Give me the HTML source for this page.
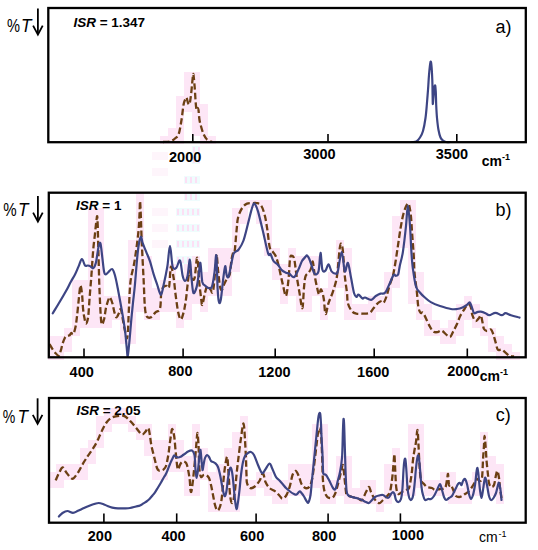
<!DOCTYPE html>
<html><head><meta charset="utf-8"><style>
html,body{margin:0;padding:0;background:#fff;}
body{width:538px;height:550px;overflow:hidden;font-family:"Liberation Sans",sans-serif;}
svg{display:block;}
</style></head><body>
<svg width="538" height="550" viewBox="0 0 538 550">
<rect x="192" y="146" width="8" height="8" fill="#effcfd"/><rect x="193" y="147" width="2" height="6" fill="#fce0f5"/><rect x="198" y="147" width="2" height="6" fill="#fce0f5"/><rect x="192" y="156" width="8" height="8" fill="#effcfd"/><rect x="193" y="157" width="2" height="6" fill="#fce0f5"/><rect x="198" y="157" width="2" height="6" fill="#fce0f5"/><rect x="184" y="176" width="16" height="8" fill="#effcfd"/><rect x="185" y="177" width="2" height="6" fill="#fce0f5"/><rect x="190" y="177" width="2" height="6" fill="#fce0f5"/><rect x="195" y="177" width="2" height="6" fill="#fce0f5"/><rect x="184" y="193" width="16" height="8" fill="#effcfd"/><rect x="185" y="194" width="2" height="6" fill="#fce0f5"/><rect x="190" y="194" width="2" height="6" fill="#fce0f5"/><rect x="195" y="194" width="2" height="6" fill="#fce0f5"/><rect x="176" y="208" width="24" height="8" fill="#effcfd"/><rect x="177" y="209" width="2" height="6" fill="#fce0f5"/><rect x="182" y="209" width="2" height="6" fill="#fce0f5"/><rect x="187" y="209" width="2" height="6" fill="#fce0f5"/><rect x="192" y="209" width="2" height="6" fill="#fce0f5"/><rect x="197" y="209" width="2" height="6" fill="#fce0f5"/><rect x="176" y="224" width="24" height="8" fill="#effcfd"/><rect x="177" y="225" width="2" height="6" fill="#fce0f5"/><rect x="182" y="225" width="2" height="6" fill="#fce0f5"/><rect x="187" y="225" width="2" height="6" fill="#fce0f5"/><rect x="192" y="225" width="2" height="6" fill="#fce0f5"/><rect x="197" y="225" width="2" height="6" fill="#fce0f5"/><rect x="176" y="240" width="24" height="8" fill="#effcfd"/><rect x="177" y="241" width="2" height="6" fill="#fce0f5"/><rect x="182" y="241" width="2" height="6" fill="#fce0f5"/><rect x="187" y="241" width="2" height="6" fill="#fce0f5"/><rect x="192" y="241" width="2" height="6" fill="#fce0f5"/><rect x="197" y="241" width="2" height="6" fill="#fce0f5"/><rect x="176" y="256" width="24" height="8" fill="#effcfd"/><rect x="177" y="257" width="2" height="6" fill="#fce0f5"/><rect x="182" y="257" width="2" height="6" fill="#fce0f5"/><rect x="187" y="257" width="2" height="6" fill="#fce0f5"/><rect x="192" y="257" width="2" height="6" fill="#fce0f5"/><rect x="197" y="257" width="2" height="6" fill="#fce0f5"/><rect x="152" y="152" width="16" height="8" fill="#fef5fb"/><rect x="152" y="168" width="16" height="8" fill="#fef5fb"/><rect x="152" y="208" width="16" height="8" fill="#fef5fb"/><rect x="152" y="224" width="16" height="8" fill="#fef5fb"/><rect x="152" y="240" width="16" height="8" fill="#fef5fb"/><g fill="#fde6f6"><rect x="48" y="336" width="8" height="8"/><rect x="48" y="344" width="8" height="8"/><rect x="48" y="352" width="8" height="8"/><rect x="48" y="472" width="8" height="8"/><rect x="48" y="480" width="8" height="8"/><rect x="56" y="336" width="8" height="8"/><rect x="56" y="344" width="8" height="8"/><rect x="56" y="352" width="8" height="8"/><rect x="56" y="464" width="8" height="8"/><rect x="56" y="472" width="8" height="8"/><rect x="56" y="480" width="8" height="8"/><rect x="64" y="328" width="8" height="8"/><rect x="64" y="336" width="8" height="8"/><rect x="64" y="344" width="8" height="8"/><rect x="64" y="464" width="8" height="8"/><rect x="64" y="472" width="8" height="8"/><rect x="72" y="280" width="8" height="8"/><rect x="72" y="288" width="8" height="8"/><rect x="72" y="296" width="8" height="8"/><rect x="72" y="304" width="8" height="8"/><rect x="72" y="312" width="8" height="8"/><rect x="72" y="320" width="8" height="8"/><rect x="72" y="328" width="8" height="8"/><rect x="72" y="464" width="8" height="8"/><rect x="72" y="472" width="8" height="8"/><rect x="80" y="280" width="8" height="8"/><rect x="80" y="288" width="8" height="8"/><rect x="80" y="296" width="8" height="8"/><rect x="80" y="304" width="8" height="8"/><rect x="80" y="312" width="8" height="8"/><rect x="80" y="320" width="8" height="8"/><rect x="80" y="448" width="8" height="8"/><rect x="80" y="456" width="8" height="8"/><rect x="80" y="464" width="8" height="8"/><rect x="80" y="472" width="8" height="8"/><rect x="88" y="208" width="8" height="8"/><rect x="88" y="216" width="8" height="8"/><rect x="88" y="224" width="8" height="8"/><rect x="88" y="232" width="8" height="8"/><rect x="88" y="240" width="8" height="8"/><rect x="88" y="248" width="8" height="8"/><rect x="88" y="256" width="8" height="8"/><rect x="88" y="264" width="8" height="8"/><rect x="88" y="272" width="8" height="8"/><rect x="88" y="280" width="8" height="8"/><rect x="88" y="288" width="8" height="8"/><rect x="88" y="296" width="8" height="8"/><rect x="88" y="304" width="8" height="8"/><rect x="88" y="312" width="8" height="8"/><rect x="88" y="320" width="8" height="8"/><rect x="88" y="440" width="8" height="8"/><rect x="88" y="448" width="8" height="8"/><rect x="88" y="456" width="8" height="8"/><rect x="96" y="208" width="8" height="8"/><rect x="96" y="216" width="8" height="8"/><rect x="96" y="224" width="8" height="8"/><rect x="96" y="232" width="8" height="8"/><rect x="96" y="240" width="8" height="8"/><rect x="96" y="248" width="8" height="8"/><rect x="96" y="256" width="8" height="8"/><rect x="96" y="264" width="8" height="8"/><rect x="96" y="272" width="8" height="8"/><rect x="96" y="280" width="8" height="8"/><rect x="96" y="288" width="8" height="8"/><rect x="96" y="296" width="8" height="8"/><rect x="96" y="304" width="8" height="8"/><rect x="96" y="312" width="8" height="8"/><rect x="96" y="320" width="8" height="8"/><rect x="96" y="416" width="8" height="8"/><rect x="96" y="424" width="8" height="8"/><rect x="96" y="432" width="8" height="8"/><rect x="96" y="440" width="8" height="8"/><rect x="104" y="296" width="8" height="8"/><rect x="104" y="304" width="8" height="8"/><rect x="104" y="312" width="8" height="8"/><rect x="104" y="320" width="8" height="8"/><rect x="104" y="408" width="8" height="8"/><rect x="104" y="416" width="8" height="8"/><rect x="104" y="424" width="8" height="8"/><rect x="112" y="296" width="8" height="8"/><rect x="112" y="304" width="8" height="8"/><rect x="112" y="312" width="8" height="8"/><rect x="112" y="408" width="8" height="8"/><rect x="112" y="416" width="8" height="8"/><rect x="120" y="296" width="8" height="8"/><rect x="120" y="304" width="8" height="8"/><rect x="120" y="312" width="8" height="8"/><rect x="120" y="320" width="8" height="8"/><rect x="120" y="328" width="8" height="8"/><rect x="120" y="336" width="8" height="8"/><rect x="120" y="408" width="8" height="8"/><rect x="120" y="416" width="8" height="8"/><rect x="128" y="240" width="8" height="8"/><rect x="128" y="248" width="8" height="8"/><rect x="128" y="256" width="8" height="8"/><rect x="128" y="264" width="8" height="8"/><rect x="128" y="272" width="8" height="8"/><rect x="128" y="280" width="8" height="8"/><rect x="128" y="288" width="8" height="8"/><rect x="128" y="296" width="8" height="8"/><rect x="128" y="304" width="8" height="8"/><rect x="128" y="312" width="8" height="8"/><rect x="128" y="320" width="8" height="8"/><rect x="128" y="328" width="8" height="8"/><rect x="128" y="336" width="8" height="8"/><rect x="128" y="416" width="8" height="8"/><rect x="128" y="424" width="8" height="8"/><rect x="136" y="192" width="8" height="8"/><rect x="136" y="200" width="8" height="8"/><rect x="136" y="208" width="8" height="8"/><rect x="136" y="216" width="8" height="8"/><rect x="136" y="224" width="8" height="8"/><rect x="136" y="232" width="8" height="8"/><rect x="136" y="240" width="8" height="8"/><rect x="136" y="248" width="8" height="8"/><rect x="136" y="256" width="8" height="8"/><rect x="136" y="264" width="8" height="8"/><rect x="136" y="272" width="8" height="8"/><rect x="136" y="280" width="8" height="8"/><rect x="136" y="288" width="8" height="8"/><rect x="136" y="296" width="8" height="8"/><rect x="136" y="304" width="8" height="8"/><rect x="136" y="424" width="8" height="8"/><rect x="136" y="432" width="8" height="8"/><rect x="144" y="256" width="8" height="8"/><rect x="144" y="264" width="8" height="8"/><rect x="144" y="272" width="8" height="8"/><rect x="144" y="280" width="8" height="8"/><rect x="144" y="288" width="8" height="8"/><rect x="144" y="296" width="8" height="8"/><rect x="144" y="304" width="8" height="8"/><rect x="144" y="312" width="8" height="8"/><rect x="144" y="424" width="8" height="8"/><rect x="144" y="432" width="8" height="8"/><rect x="144" y="440" width="8" height="8"/><rect x="144" y="448" width="8" height="8"/><rect x="152" y="288" width="8" height="8"/><rect x="152" y="296" width="8" height="8"/><rect x="152" y="304" width="8" height="8"/><rect x="152" y="312" width="8" height="8"/><rect x="152" y="440" width="8" height="8"/><rect x="152" y="448" width="8" height="8"/><rect x="152" y="456" width="8" height="8"/><rect x="152" y="464" width="8" height="8"/><rect x="152" y="472" width="8" height="8"/><rect x="160" y="136" width="8" height="8"/><rect x="160" y="280" width="8" height="8"/><rect x="160" y="288" width="8" height="8"/><rect x="160" y="296" width="8" height="8"/><rect x="160" y="304" width="8" height="8"/><rect x="160" y="440" width="8" height="8"/><rect x="160" y="448" width="8" height="8"/><rect x="160" y="456" width="8" height="8"/><rect x="160" y="464" width="8" height="8"/><rect x="160" y="472" width="8" height="8"/><rect x="168" y="128" width="8" height="8"/><rect x="168" y="136" width="8" height="8"/><rect x="168" y="264" width="8" height="8"/><rect x="168" y="272" width="8" height="8"/><rect x="168" y="280" width="8" height="8"/><rect x="168" y="288" width="8" height="8"/><rect x="168" y="296" width="8" height="8"/><rect x="168" y="304" width="8" height="8"/><rect x="168" y="424" width="8" height="8"/><rect x="168" y="432" width="8" height="8"/><rect x="168" y="440" width="8" height="8"/><rect x="168" y="448" width="8" height="8"/><rect x="168" y="456" width="8" height="8"/><rect x="168" y="464" width="8" height="8"/><rect x="176" y="96" width="8" height="8"/><rect x="176" y="104" width="8" height="8"/><rect x="176" y="112" width="8" height="8"/><rect x="176" y="120" width="8" height="8"/><rect x="176" y="128" width="8" height="8"/><rect x="176" y="136" width="8" height="8"/><rect x="176" y="280" width="8" height="8"/><rect x="176" y="288" width="8" height="8"/><rect x="176" y="296" width="8" height="8"/><rect x="176" y="304" width="8" height="8"/><rect x="176" y="312" width="8" height="8"/><rect x="176" y="320" width="8" height="8"/><rect x="176" y="440" width="8" height="8"/><rect x="176" y="448" width="8" height="8"/><rect x="176" y="456" width="8" height="8"/><rect x="176" y="464" width="8" height="8"/><rect x="184" y="72" width="8" height="8"/><rect x="184" y="80" width="8" height="8"/><rect x="184" y="88" width="8" height="8"/><rect x="184" y="96" width="8" height="8"/><rect x="184" y="104" width="8" height="8"/><rect x="184" y="264" width="8" height="8"/><rect x="184" y="272" width="8" height="8"/><rect x="184" y="280" width="8" height="8"/><rect x="184" y="288" width="8" height="8"/><rect x="184" y="296" width="8" height="8"/><rect x="184" y="304" width="8" height="8"/><rect x="184" y="312" width="8" height="8"/><rect x="184" y="456" width="8" height="8"/><rect x="184" y="464" width="8" height="8"/><rect x="184" y="472" width="8" height="8"/><rect x="184" y="480" width="8" height="8"/><rect x="184" y="488" width="8" height="8"/><rect x="192" y="72" width="8" height="8"/><rect x="192" y="80" width="8" height="8"/><rect x="192" y="88" width="8" height="8"/><rect x="192" y="96" width="8" height="8"/><rect x="192" y="104" width="8" height="8"/><rect x="192" y="112" width="8" height="8"/><rect x="192" y="120" width="8" height="8"/><rect x="192" y="128" width="8" height="8"/><rect x="192" y="256" width="8" height="8"/><rect x="192" y="264" width="8" height="8"/><rect x="192" y="272" width="8" height="8"/><rect x="192" y="280" width="8" height="8"/><rect x="192" y="288" width="8" height="8"/><rect x="192" y="296" width="8" height="8"/><rect x="192" y="424" width="8" height="8"/><rect x="192" y="432" width="8" height="8"/><rect x="192" y="440" width="8" height="8"/><rect x="192" y="448" width="8" height="8"/><rect x="192" y="456" width="8" height="8"/><rect x="192" y="464" width="8" height="8"/><rect x="192" y="472" width="8" height="8"/><rect x="192" y="480" width="8" height="8"/><rect x="192" y="488" width="8" height="8"/><rect x="200" y="104" width="8" height="8"/><rect x="200" y="112" width="8" height="8"/><rect x="200" y="120" width="8" height="8"/><rect x="200" y="128" width="8" height="8"/><rect x="200" y="136" width="8" height="8"/><rect x="200" y="272" width="8" height="8"/><rect x="200" y="280" width="8" height="8"/><rect x="200" y="288" width="8" height="8"/><rect x="200" y="296" width="8" height="8"/><rect x="200" y="304" width="8" height="8"/><rect x="200" y="448" width="8" height="8"/><rect x="200" y="456" width="8" height="8"/><rect x="200" y="464" width="8" height="8"/><rect x="200" y="472" width="8" height="8"/><rect x="208" y="136" width="8" height="8"/><rect x="208" y="248" width="8" height="8"/><rect x="208" y="256" width="8" height="8"/><rect x="208" y="264" width="8" height="8"/><rect x="208" y="272" width="8" height="8"/><rect x="208" y="280" width="8" height="8"/><rect x="208" y="288" width="8" height="8"/><rect x="208" y="472" width="8" height="8"/><rect x="208" y="480" width="8" height="8"/><rect x="208" y="488" width="8" height="8"/><rect x="208" y="496" width="8" height="8"/><rect x="208" y="504" width="8" height="8"/><rect x="216" y="248" width="8" height="8"/><rect x="216" y="256" width="8" height="8"/><rect x="216" y="264" width="8" height="8"/><rect x="216" y="272" width="8" height="8"/><rect x="216" y="280" width="8" height="8"/><rect x="216" y="288" width="8" height="8"/><rect x="216" y="464" width="8" height="8"/><rect x="216" y="472" width="8" height="8"/><rect x="216" y="480" width="8" height="8"/><rect x="216" y="488" width="8" height="8"/><rect x="216" y="496" width="8" height="8"/><rect x="216" y="504" width="8" height="8"/><rect x="224" y="248" width="8" height="8"/><rect x="224" y="256" width="8" height="8"/><rect x="224" y="264" width="8" height="8"/><rect x="224" y="272" width="8" height="8"/><rect x="224" y="280" width="8" height="8"/><rect x="224" y="288" width="8" height="8"/><rect x="224" y="448" width="8" height="8"/><rect x="224" y="456" width="8" height="8"/><rect x="224" y="464" width="8" height="8"/><rect x="224" y="472" width="8" height="8"/><rect x="224" y="480" width="8" height="8"/><rect x="224" y="488" width="8" height="8"/><rect x="224" y="496" width="8" height="8"/><rect x="224" y="504" width="8" height="8"/><rect x="232" y="208" width="8" height="8"/><rect x="232" y="216" width="8" height="8"/><rect x="232" y="224" width="8" height="8"/><rect x="232" y="232" width="8" height="8"/><rect x="232" y="240" width="8" height="8"/><rect x="232" y="248" width="8" height="8"/><rect x="232" y="256" width="8" height="8"/><rect x="232" y="264" width="8" height="8"/><rect x="232" y="432" width="8" height="8"/><rect x="232" y="440" width="8" height="8"/><rect x="232" y="448" width="8" height="8"/><rect x="232" y="456" width="8" height="8"/><rect x="232" y="464" width="8" height="8"/><rect x="232" y="472" width="8" height="8"/><rect x="232" y="480" width="8" height="8"/><rect x="232" y="488" width="8" height="8"/><rect x="232" y="496" width="8" height="8"/><rect x="232" y="504" width="8" height="8"/><rect x="240" y="200" width="8" height="8"/><rect x="240" y="208" width="8" height="8"/><rect x="240" y="216" width="8" height="8"/><rect x="240" y="416" width="8" height="8"/><rect x="240" y="424" width="8" height="8"/><rect x="240" y="432" width="8" height="8"/><rect x="240" y="440" width="8" height="8"/><rect x="240" y="448" width="8" height="8"/><rect x="240" y="456" width="8" height="8"/><rect x="240" y="464" width="8" height="8"/><rect x="240" y="472" width="8" height="8"/><rect x="240" y="480" width="8" height="8"/><rect x="240" y="488" width="8" height="8"/><rect x="248" y="200" width="8" height="8"/><rect x="248" y="480" width="8" height="8"/><rect x="248" y="488" width="8" height="8"/><rect x="256" y="200" width="8" height="8"/><rect x="256" y="208" width="8" height="8"/><rect x="256" y="216" width="8" height="8"/><rect x="256" y="472" width="8" height="8"/><rect x="256" y="480" width="8" height="8"/><rect x="264" y="200" width="8" height="8"/><rect x="264" y="208" width="8" height="8"/><rect x="264" y="216" width="8" height="8"/><rect x="264" y="224" width="8" height="8"/><rect x="264" y="232" width="8" height="8"/><rect x="264" y="240" width="8" height="8"/><rect x="264" y="248" width="8" height="8"/><rect x="264" y="472" width="8" height="8"/><rect x="264" y="480" width="8" height="8"/><rect x="264" y="488" width="8" height="8"/><rect x="272" y="248" width="8" height="8"/><rect x="272" y="256" width="8" height="8"/><rect x="272" y="264" width="8" height="8"/><rect x="272" y="272" width="8" height="8"/><rect x="272" y="480" width="8" height="8"/><rect x="272" y="488" width="8" height="8"/><rect x="272" y="496" width="8" height="8"/><rect x="280" y="264" width="8" height="8"/><rect x="280" y="272" width="8" height="8"/><rect x="280" y="280" width="8" height="8"/><rect x="280" y="288" width="8" height="8"/><rect x="280" y="296" width="8" height="8"/><rect x="280" y="480" width="8" height="8"/><rect x="280" y="488" width="8" height="8"/><rect x="280" y="496" width="8" height="8"/><rect x="288" y="248" width="8" height="8"/><rect x="288" y="256" width="8" height="8"/><rect x="288" y="264" width="8" height="8"/><rect x="288" y="272" width="8" height="8"/><rect x="288" y="280" width="8" height="8"/><rect x="288" y="288" width="8" height="8"/><rect x="288" y="464" width="8" height="8"/><rect x="288" y="472" width="8" height="8"/><rect x="288" y="480" width="8" height="8"/><rect x="288" y="488" width="8" height="8"/><rect x="296" y="256" width="8" height="8"/><rect x="296" y="264" width="8" height="8"/><rect x="296" y="272" width="8" height="8"/><rect x="296" y="280" width="8" height="8"/><rect x="296" y="288" width="8" height="8"/><rect x="296" y="296" width="8" height="8"/><rect x="296" y="304" width="8" height="8"/><rect x="296" y="464" width="8" height="8"/><rect x="296" y="472" width="8" height="8"/><rect x="296" y="480" width="8" height="8"/><rect x="296" y="488" width="8" height="8"/><rect x="304" y="256" width="8" height="8"/><rect x="304" y="264" width="8" height="8"/><rect x="304" y="272" width="8" height="8"/><rect x="304" y="280" width="8" height="8"/><rect x="304" y="288" width="8" height="8"/><rect x="304" y="296" width="8" height="8"/><rect x="304" y="304" width="8" height="8"/><rect x="304" y="464" width="8" height="8"/><rect x="304" y="472" width="8" height="8"/><rect x="304" y="480" width="8" height="8"/><rect x="304" y="488" width="8" height="8"/><rect x="312" y="256" width="8" height="8"/><rect x="312" y="264" width="8" height="8"/><rect x="312" y="272" width="8" height="8"/><rect x="312" y="280" width="8" height="8"/><rect x="312" y="288" width="8" height="8"/><rect x="312" y="424" width="8" height="8"/><rect x="312" y="432" width="8" height="8"/><rect x="312" y="440" width="8" height="8"/><rect x="312" y="448" width="8" height="8"/><rect x="312" y="456" width="8" height="8"/><rect x="312" y="464" width="8" height="8"/><rect x="312" y="472" width="8" height="8"/><rect x="312" y="480" width="8" height="8"/><rect x="320" y="288" width="8" height="8"/><rect x="320" y="296" width="8" height="8"/><rect x="320" y="304" width="8" height="8"/><rect x="320" y="312" width="8" height="8"/><rect x="320" y="424" width="8" height="8"/><rect x="320" y="432" width="8" height="8"/><rect x="320" y="440" width="8" height="8"/><rect x="320" y="448" width="8" height="8"/><rect x="320" y="456" width="8" height="8"/><rect x="320" y="464" width="8" height="8"/><rect x="320" y="472" width="8" height="8"/><rect x="320" y="480" width="8" height="8"/><rect x="320" y="488" width="8" height="8"/><rect x="320" y="496" width="8" height="8"/><rect x="328" y="272" width="8" height="8"/><rect x="328" y="280" width="8" height="8"/><rect x="328" y="288" width="8" height="8"/><rect x="328" y="296" width="8" height="8"/><rect x="328" y="304" width="8" height="8"/><rect x="328" y="480" width="8" height="8"/><rect x="328" y="488" width="8" height="8"/><rect x="328" y="496" width="8" height="8"/><rect x="336" y="240" width="8" height="8"/><rect x="336" y="248" width="8" height="8"/><rect x="336" y="256" width="8" height="8"/><rect x="336" y="264" width="8" height="8"/><rect x="336" y="272" width="8" height="8"/><rect x="336" y="280" width="8" height="8"/><rect x="336" y="456" width="8" height="8"/><rect x="336" y="464" width="8" height="8"/><rect x="336" y="472" width="8" height="8"/><rect x="336" y="480" width="8" height="8"/><rect x="336" y="488" width="8" height="8"/><rect x="344" y="248" width="8" height="8"/><rect x="344" y="256" width="8" height="8"/><rect x="344" y="264" width="8" height="8"/><rect x="344" y="272" width="8" height="8"/><rect x="344" y="280" width="8" height="8"/><rect x="344" y="288" width="8" height="8"/><rect x="344" y="296" width="8" height="8"/><rect x="344" y="304" width="8" height="8"/><rect x="344" y="312" width="8" height="8"/><rect x="344" y="456" width="8" height="8"/><rect x="344" y="464" width="8" height="8"/><rect x="344" y="472" width="8" height="8"/><rect x="344" y="480" width="8" height="8"/><rect x="344" y="488" width="8" height="8"/><rect x="344" y="496" width="8" height="8"/><rect x="352" y="304" width="8" height="8"/><rect x="352" y="312" width="8" height="8"/><rect x="352" y="488" width="8" height="8"/><rect x="352" y="496" width="8" height="8"/><rect x="360" y="304" width="8" height="8"/><rect x="360" y="312" width="8" height="8"/><rect x="360" y="480" width="8" height="8"/><rect x="360" y="488" width="8" height="8"/><rect x="360" y="496" width="8" height="8"/><rect x="368" y="296" width="8" height="8"/><rect x="368" y="304" width="8" height="8"/><rect x="368" y="312" width="8" height="8"/><rect x="368" y="480" width="8" height="8"/><rect x="368" y="488" width="8" height="8"/><rect x="368" y="496" width="8" height="8"/><rect x="376" y="296" width="8" height="8"/><rect x="376" y="304" width="8" height="8"/><rect x="376" y="496" width="8" height="8"/><rect x="376" y="504" width="8" height="8"/><rect x="384" y="272" width="8" height="8"/><rect x="384" y="280" width="8" height="8"/><rect x="384" y="288" width="8" height="8"/><rect x="384" y="296" width="8" height="8"/><rect x="384" y="304" width="8" height="8"/><rect x="384" y="464" width="8" height="8"/><rect x="384" y="472" width="8" height="8"/><rect x="384" y="480" width="8" height="8"/><rect x="384" y="488" width="8" height="8"/><rect x="384" y="496" width="8" height="8"/><rect x="392" y="216" width="8" height="8"/><rect x="392" y="224" width="8" height="8"/><rect x="392" y="232" width="8" height="8"/><rect x="392" y="240" width="8" height="8"/><rect x="392" y="248" width="8" height="8"/><rect x="392" y="256" width="8" height="8"/><rect x="392" y="264" width="8" height="8"/><rect x="392" y="272" width="8" height="8"/><rect x="392" y="280" width="8" height="8"/><rect x="392" y="448" width="8" height="8"/><rect x="392" y="456" width="8" height="8"/><rect x="392" y="464" width="8" height="8"/><rect x="392" y="472" width="8" height="8"/><rect x="392" y="480" width="8" height="8"/><rect x="392" y="488" width="8" height="8"/><rect x="400" y="200" width="8" height="8"/><rect x="400" y="208" width="8" height="8"/><rect x="400" y="216" width="8" height="8"/><rect x="400" y="224" width="8" height="8"/><rect x="400" y="232" width="8" height="8"/><rect x="400" y="240" width="8" height="8"/><rect x="400" y="480" width="8" height="8"/><rect x="400" y="488" width="8" height="8"/><rect x="408" y="200" width="8" height="8"/><rect x="408" y="208" width="8" height="8"/><rect x="408" y="216" width="8" height="8"/><rect x="408" y="224" width="8" height="8"/><rect x="408" y="232" width="8" height="8"/><rect x="408" y="240" width="8" height="8"/><rect x="408" y="248" width="8" height="8"/><rect x="408" y="256" width="8" height="8"/><rect x="408" y="264" width="8" height="8"/><rect x="408" y="272" width="8" height="8"/><rect x="408" y="280" width="8" height="8"/><rect x="408" y="288" width="8" height="8"/><rect x="408" y="296" width="8" height="8"/><rect x="408" y="424" width="8" height="8"/><rect x="408" y="432" width="8" height="8"/><rect x="408" y="440" width="8" height="8"/><rect x="408" y="448" width="8" height="8"/><rect x="408" y="456" width="8" height="8"/><rect x="408" y="464" width="8" height="8"/><rect x="408" y="472" width="8" height="8"/><rect x="408" y="480" width="8" height="8"/><rect x="408" y="488" width="8" height="8"/><rect x="416" y="272" width="8" height="8"/><rect x="416" y="280" width="8" height="8"/><rect x="416" y="288" width="8" height="8"/><rect x="416" y="296" width="8" height="8"/><rect x="416" y="304" width="8" height="8"/><rect x="416" y="312" width="8" height="8"/><rect x="416" y="424" width="8" height="8"/><rect x="416" y="432" width="8" height="8"/><rect x="416" y="440" width="8" height="8"/><rect x="416" y="448" width="8" height="8"/><rect x="416" y="456" width="8" height="8"/><rect x="416" y="464" width="8" height="8"/><rect x="416" y="472" width="8" height="8"/><rect x="416" y="480" width="8" height="8"/><rect x="424" y="304" width="8" height="8"/><rect x="424" y="312" width="8" height="8"/><rect x="424" y="320" width="8" height="8"/><rect x="424" y="328" width="8" height="8"/><rect x="424" y="480" width="8" height="8"/><rect x="424" y="488" width="8" height="8"/><rect x="432" y="320" width="8" height="8"/><rect x="432" y="328" width="8" height="8"/><rect x="432" y="480" width="8" height="8"/><rect x="432" y="488" width="8" height="8"/><rect x="440" y="328" width="8" height="8"/><rect x="440" y="336" width="8" height="8"/><rect x="440" y="472" width="8" height="8"/><rect x="440" y="480" width="8" height="8"/><rect x="440" y="488" width="8" height="8"/><rect x="448" y="320" width="8" height="8"/><rect x="448" y="328" width="8" height="8"/><rect x="448" y="336" width="8" height="8"/><rect x="448" y="472" width="8" height="8"/><rect x="448" y="480" width="8" height="8"/><rect x="448" y="488" width="8" height="8"/><rect x="448" y="496" width="8" height="8"/><rect x="456" y="304" width="8" height="8"/><rect x="456" y="312" width="8" height="8"/><rect x="456" y="320" width="8" height="8"/><rect x="456" y="328" width="8" height="8"/><rect x="456" y="488" width="8" height="8"/><rect x="456" y="496" width="8" height="8"/><rect x="464" y="296" width="8" height="8"/><rect x="464" y="304" width="8" height="8"/><rect x="464" y="312" width="8" height="8"/><rect x="464" y="480" width="8" height="8"/><rect x="464" y="488" width="8" height="8"/><rect x="464" y="496" width="8" height="8"/><rect x="472" y="304" width="8" height="8"/><rect x="472" y="312" width="8" height="8"/><rect x="472" y="320" width="8" height="8"/><rect x="472" y="472" width="8" height="8"/><rect x="472" y="480" width="8" height="8"/><rect x="472" y="488" width="8" height="8"/><rect x="480" y="312" width="8" height="8"/><rect x="480" y="320" width="8" height="8"/><rect x="480" y="328" width="8" height="8"/><rect x="480" y="432" width="8" height="8"/><rect x="480" y="440" width="8" height="8"/><rect x="480" y="448" width="8" height="8"/><rect x="480" y="456" width="8" height="8"/><rect x="480" y="464" width="8" height="8"/><rect x="480" y="472" width="8" height="8"/><rect x="480" y="480" width="8" height="8"/><rect x="488" y="328" width="8" height="8"/><rect x="488" y="336" width="8" height="8"/><rect x="488" y="344" width="8" height="8"/><rect x="488" y="456" width="8" height="8"/><rect x="488" y="464" width="8" height="8"/><rect x="488" y="472" width="8" height="8"/><rect x="488" y="480" width="8" height="8"/><rect x="488" y="488" width="8" height="8"/><rect x="496" y="336" width="8" height="8"/><rect x="496" y="344" width="8" height="8"/><rect x="496" y="352" width="8" height="8"/><rect x="496" y="464" width="8" height="8"/><rect x="496" y="472" width="8" height="8"/><rect x="496" y="480" width="8" height="8"/><rect x="496" y="488" width="8" height="8"/><rect x="496" y="496" width="8" height="8"/><rect x="504" y="344" width="8" height="8"/><rect x="504" y="352" width="8" height="8"/><rect x="512" y="352" width="8" height="8"/></g>
<path d="M163.0,142.0 C164.2,141.9 168.0,142.1 170.0,141.5 C172.0,140.9 173.6,139.8 175.0,138.5 C176.4,137.2 177.6,137.1 178.7,134.0 C179.8,130.9 180.7,124.8 181.5,120.0 C182.3,115.2 182.9,108.3 183.5,105.0 C184.1,101.7 184.5,101.2 185.0,100.0 C185.5,98.8 186.0,97.0 186.5,97.5 C187.0,98.0 187.5,101.9 188.0,103.0 C188.5,104.1 189.0,105.3 189.5,104.0 C190.0,102.7 190.5,99.0 191.0,95.0 C191.5,91.0 192.1,83.5 192.5,80.0 C192.9,76.5 193.0,73.2 193.3,74.0 C193.6,74.8 194.1,80.7 194.5,85.0 C194.9,89.3 195.2,95.8 195.5,100.0 C195.8,104.2 196.2,108.7 196.5,110.0 C196.8,111.3 197.2,108.0 197.5,108.0 C197.8,108.0 198.2,108.0 198.5,110.0 C198.8,112.0 199.0,117.0 199.5,120.0 C200.0,123.0 200.8,125.5 201.5,128.0 C202.2,130.5 203.1,133.1 204.0,135.0 C204.9,136.9 205.7,138.3 207.0,139.5 C208.3,140.7 211.2,141.6 212.0,142.0" fill="none" stroke="#6c3f13" stroke-width="2.3" stroke-dasharray="6.5 3" stroke-linejoin="round"/><path d="M412.0,142.0 C412.7,141.9 415.1,142.2 416.4,141.5 C417.7,140.8 418.9,139.2 420.0,137.5 C421.1,135.8 422.1,134.2 423.0,131.0 C423.9,127.8 424.9,122.3 425.5,118.0 C426.1,113.7 426.4,109.7 426.8,105.0 C427.2,100.3 427.6,95.0 428.0,90.0 C428.4,85.0 428.6,79.7 429.0,75.0 C429.4,70.3 430.1,63.5 430.5,62.0 C430.9,60.5 431.2,63.0 431.5,66.0 C431.8,69.0 432.1,75.2 432.3,80.0 C432.5,84.8 432.5,91.0 432.6,95.0 C432.7,99.0 432.7,103.7 432.8,104.0 C432.9,104.3 433.2,99.7 433.5,97.0 C433.8,94.3 434.0,89.9 434.3,88.0 C434.6,86.1 434.9,84.8 435.2,85.5 C435.4,86.2 435.6,88.8 435.8,92.0 C436.0,95.2 436.0,100.7 436.2,105.0 C436.4,109.3 436.6,113.8 437.0,118.0 C437.4,122.2 437.9,126.8 438.5,130.0 C439.1,133.2 439.8,135.8 440.5,137.5 C441.2,139.2 442.1,139.8 443.0,140.5 C443.9,141.2 444.8,141.8 446.0,142.0 C447.2,142.2 449.3,142.0 450.0,142.0" fill="none" stroke="#3d4584" stroke-width="2.2" stroke-linejoin="round" stroke-linecap="round"/><path d="M49.5,344.0 C50.1,345.0 51.9,348.3 53.0,349.9 C54.1,351.5 54.9,352.5 55.9,353.5 C56.9,354.5 57.9,356.3 58.8,355.7 C59.6,355.1 60.4,351.8 61.0,349.9 C61.6,347.9 61.9,345.9 62.5,344.0 C63.1,342.1 64.0,339.5 64.7,338.2 C65.4,336.9 66.0,336.5 66.8,336.0 C67.6,335.5 69.0,335.8 69.7,335.3 C70.4,334.8 70.6,333.2 71.2,333.0 C71.8,332.8 72.7,335.0 73.4,333.9 C74.1,332.8 75.0,329.5 75.6,326.6 C76.2,323.7 76.5,320.5 77.0,316.4 C77.5,312.3 78.0,306.4 78.5,301.8 C79.0,297.2 79.5,291.4 79.9,288.7 C80.3,286.0 80.3,284.8 80.7,285.8 C81.1,286.8 81.7,290.7 82.1,294.6 C82.5,298.5 82.7,305.3 83.1,309.1 C83.5,312.9 83.8,314.9 84.3,317.3 C84.8,319.7 85.3,323.6 85.9,323.6 C86.5,323.6 87.5,321.4 88.1,317.3 C88.7,313.2 89.0,306.1 89.5,299.1 C90.0,292.1 90.8,283.7 91.4,275.5 C92.0,267.3 92.6,257.0 93.2,250.0 C93.8,243.0 94.5,238.6 95.0,233.6 C95.5,228.6 96.1,222.9 96.5,220.0 C96.9,217.1 97.0,215.5 97.2,216.3 C97.4,217.1 97.5,220.2 97.7,225.0 C97.9,229.8 98.0,238.2 98.2,245.0 C98.4,251.8 98.6,258.5 98.8,266.0 C99.0,273.5 99.1,280.6 99.5,290.0 C99.9,299.4 100.6,317.8 101.4,322.7 C102.2,327.6 103.3,321.5 104.1,319.1 C104.8,316.7 105.2,311.5 105.9,308.2 C106.7,304.9 107.9,300.9 108.6,299.1 C109.3,297.3 109.4,296.8 110.1,297.6 C110.8,298.4 111.8,301.4 112.6,304.0 C113.3,306.6 113.9,310.7 114.6,312.9 C115.2,315.1 115.8,317.4 116.5,317.4 C117.2,317.4 118.3,314.3 119.0,312.9 C119.7,311.5 120.3,308.0 120.9,309.1 C121.5,310.2 122.2,315.9 122.8,319.3 C123.4,322.7 124.0,326.3 124.7,329.5 C125.4,332.7 126.2,338.0 126.7,338.4 C127.2,338.8 127.6,335.8 127.9,332.0 C128.2,328.2 128.4,320.4 128.6,315.5 C128.8,310.6 129.0,306.9 129.2,302.7 C129.4,298.4 129.5,294.1 129.8,290.0 C130.1,285.9 130.2,282.8 131.0,278.0 C131.8,273.2 133.3,268.7 134.5,261.4 C135.7,254.1 137.4,241.7 138.2,234.0 C139.0,226.3 139.2,220.5 139.5,215.0 C139.8,209.5 139.8,201.0 140.0,201.0 C140.2,201.0 140.5,208.0 140.8,215.0 C141.1,222.0 141.3,232.4 141.8,243.2 C142.3,253.9 143.0,268.0 143.6,279.5 C144.2,291.0 144.4,305.9 145.5,312.3 C146.6,318.7 148.3,317.7 150.0,317.7 C151.7,317.7 153.8,313.8 155.5,312.3 C157.2,310.8 159.0,311.9 160.0,308.6 C161.0,305.3 160.7,295.9 161.3,292.3 C161.9,288.7 162.8,287.9 163.6,286.8 C164.4,285.7 165.5,285.9 166.4,285.9 C167.3,285.9 168.3,290.0 169.1,286.8 C169.8,283.6 170.2,268.3 170.9,266.8 C171.7,265.3 172.8,273.2 173.6,277.7 C174.4,282.2 174.7,288.2 175.5,294.0 C176.3,299.8 177.3,308.1 178.2,312.3 C179.1,316.6 180.0,319.5 180.9,319.5 C181.8,319.5 182.9,314.7 183.6,312.3 C184.3,309.9 184.6,307.7 185.1,305.0 C185.6,302.3 186.0,299.3 186.4,295.9 C186.8,292.5 187.1,288.8 187.6,284.6 C188.1,280.4 188.9,271.7 189.6,270.6 C190.2,269.5 190.7,277.0 191.5,278.2 C192.3,279.4 193.7,281.4 194.6,278.0 C195.5,274.6 196.4,257.3 197.2,257.8 C197.9,258.3 198.5,274.2 199.1,280.8 C199.7,287.4 200.5,293.3 201.0,297.3 C201.5,301.3 201.7,305.6 202.3,305.0 C202.9,304.4 204.0,296.7 204.8,293.5 C205.7,290.3 206.4,286.5 207.4,285.9 C208.4,285.3 209.7,288.8 210.6,289.7 C211.5,290.6 212.2,295.0 213.1,291.0 C213.9,287.0 215.1,271.6 215.7,265.5 C216.3,259.4 216.3,253.5 216.7,254.6 C217.1,255.7 217.6,266.4 218.2,271.8 C218.8,277.2 219.5,284.1 220.1,287.1 C220.7,290.1 221.3,290.1 222.0,289.7 C222.7,289.3 223.2,286.5 224.0,284.6 C224.8,282.7 226.2,279.9 227.1,278.2 C228.0,276.5 228.9,277.6 229.7,274.4 C230.4,271.2 231.0,262.9 231.6,259.1 C232.2,255.3 233.0,253.0 233.5,251.5 C234.0,250.0 234.3,253.9 234.8,250.3 C235.3,246.7 236.0,235.6 236.6,230.0 C237.2,224.4 237.2,220.7 238.2,217.0 C239.1,213.3 240.8,210.0 242.3,207.8 C243.8,205.6 245.2,204.4 247.0,203.6 C248.8,202.8 251.7,203.2 253.3,203.1 C254.9,203.0 255.2,202.6 256.5,203.0 C257.8,203.4 259.8,203.3 261.2,205.5 C262.6,207.7 264.0,212.2 265.0,216.3 C266.0,220.4 266.6,225.0 267.4,230.2 C268.2,235.3 268.8,243.6 269.7,247.2 C270.6,250.8 271.8,250.2 272.8,251.8 C273.8,253.4 274.9,253.9 275.9,256.5 C276.9,259.1 277.9,262.7 279.0,267.3 C280.1,271.9 281.6,279.6 282.8,284.4 C284.0,289.2 285.1,296.7 286.0,295.9 C286.9,295.1 287.8,285.8 288.5,279.5 C289.2,273.2 289.5,262.2 290.1,258.3 C290.7,254.4 291.3,255.9 292.0,256.0 C292.7,256.1 293.4,255.6 294.2,259.0 C295.0,262.4 295.7,270.2 296.7,276.3 C297.7,282.4 299.1,290.6 300.0,295.9 C300.9,301.2 301.7,309.5 302.4,308.1 C303.1,306.7 303.5,293.0 304.0,287.7 C304.5,282.4 304.7,278.9 305.5,276.4 C306.3,273.9 307.9,273.9 308.8,272.5 C309.8,271.1 310.6,269.8 311.2,268.0 C311.8,266.2 312.2,261.2 312.7,261.5 C313.2,261.8 313.6,267.1 314.0,270.0 C314.4,272.9 314.8,276.0 315.3,279.0 C315.8,282.0 316.6,285.5 317.2,288.1 C317.8,290.7 318.5,294.4 319.2,294.6 C319.9,294.8 320.3,288.7 321.1,289.4 C321.9,290.1 323.1,294.9 323.8,299.0 C324.5,303.1 324.7,313.3 325.5,314.0 C326.3,314.7 327.2,307.1 328.5,303.2 C329.8,299.3 331.8,295.3 333.2,290.8 C334.6,286.3 335.9,283.4 337.0,276.0 C338.1,268.6 339.1,251.3 340.0,246.6 C340.9,241.9 341.7,243.1 342.5,248.0 C343.3,252.9 344.1,268.5 344.8,276.0 C345.6,283.5 346.5,288.5 347.0,293.0 C347.5,297.5 347.1,300.2 347.9,303.2 C348.7,306.2 350.3,309.2 351.7,311.0 C353.1,312.8 354.6,313.2 356.4,313.7 C358.2,314.1 360.3,313.8 362.5,313.7 C364.7,313.6 367.8,313.8 369.6,312.9 C371.4,312.0 372.2,309.9 373.5,308.3 C374.8,306.8 376.2,304.8 377.4,303.6 C378.6,302.4 379.5,301.4 380.5,301.3 C381.5,301.2 382.5,303.8 383.5,302.9 C384.5,302.0 385.6,299.0 386.6,296.0 C387.6,293.0 388.5,289.0 389.7,285.1 C390.9,281.2 392.3,278.8 393.6,272.7 C394.9,266.6 396.4,256.1 397.5,248.7 C398.6,241.3 399.5,234.5 400.5,228.6 C401.5,222.7 402.4,217.4 403.6,213.2 C404.9,209.0 406.8,203.6 408.0,203.6 C409.2,203.6 409.9,208.2 410.6,213.2 C411.3,218.1 411.6,226.3 412.1,233.3 C412.6,240.3 413.3,248.4 413.7,255.0 C414.1,261.6 414.0,266.6 414.5,272.7 C415.0,278.8 416.2,285.6 416.8,291.3 C417.4,297.0 417.7,303.1 418.3,306.7 C418.9,310.3 419.8,311.9 420.6,312.9 C421.4,313.9 422.0,311.6 423.1,312.9 C424.2,314.2 425.9,318.3 427.0,320.6 C428.1,322.9 429.0,325.0 430.0,326.8 C431.0,328.6 431.9,330.6 433.1,331.5 C434.3,332.4 435.6,332.3 437.0,332.2 C438.4,332.1 440.1,330.3 441.6,330.7 C443.2,331.1 444.9,333.6 446.3,334.6 C447.7,335.6 449.0,337.4 450.1,336.9 C451.2,336.4 452.0,333.7 453.2,331.5 C454.4,329.3 455.9,326.3 457.1,323.7 C458.3,321.1 459.0,318.4 460.2,316.0 C461.4,313.6 463.2,311.0 464.5,309.0 C465.8,307.0 466.9,304.5 468.0,304.2 C469.1,303.9 470.1,305.2 470.8,307.0 C471.5,308.8 471.5,312.5 472.3,314.8 C473.1,317.1 474.4,320.4 475.4,321.0 C476.4,321.6 477.6,319.5 478.5,318.6 C479.4,317.7 480.2,315.0 480.8,315.5 C481.4,316.0 481.9,319.5 482.4,321.7 C482.9,323.9 483.1,327.1 483.9,328.7 C484.7,330.2 485.8,330.9 487.0,331.0 C488.2,331.1 489.9,329.0 490.9,329.5 C491.9,330.0 492.4,331.9 493.2,334.0 C494.0,336.1 494.7,339.2 495.5,341.8 C496.3,344.4 496.8,348.3 497.8,349.6 C498.8,350.9 500.4,349.1 501.7,349.6 C503.0,350.1 504.2,351.6 505.5,352.6 C506.8,353.6 508.0,355.1 509.4,355.7 C510.8,356.3 513.2,356.4 514.0,356.5" fill="none" stroke="#6c3f13" stroke-width="2.3" stroke-dasharray="6.5 3" stroke-linejoin="round"/><path d="M52.8,313.3 C53.9,311.4 57.4,305.8 59.6,302.0 C61.9,298.2 64.4,293.9 66.3,290.5 C68.2,287.1 69.5,284.2 71.0,281.5 C72.5,278.8 73.7,277.0 75.0,274.5 C76.3,272.0 77.4,269.0 78.6,266.4 C79.8,263.8 80.8,259.2 81.9,259.1 C83.0,259.0 84.0,264.4 85.0,265.5 C86.0,266.6 86.8,265.4 87.7,265.5 C88.6,265.6 89.6,265.9 90.5,266.4 C91.4,266.8 92.3,268.8 93.2,268.2 C94.1,267.6 95.0,266.3 95.9,262.7 C96.8,259.1 97.8,249.6 98.6,246.4 C99.4,243.2 99.9,241.8 100.5,243.6 C101.1,245.4 101.7,252.6 102.3,257.3 C102.9,262.0 103.5,268.9 104.1,271.8 C104.7,274.7 105.2,274.5 105.9,274.5 C106.7,274.5 107.5,272.7 108.6,271.8 C109.7,270.9 111.2,268.5 112.3,269.1 C113.4,269.7 114.1,272.4 115.0,275.5 C115.9,278.6 116.6,282.4 117.7,288.0 C118.8,293.6 120.4,302.4 121.6,309.1 C122.8,315.8 123.8,321.8 124.7,328.2 C125.6,334.6 126.2,342.6 126.7,347.3 C127.2,352.0 127.3,356.8 127.7,356.2 C128.1,355.6 128.6,349.2 129.2,343.5 C129.8,337.8 130.5,328.6 131.1,321.8 C131.7,315.0 132.4,308.8 133.0,302.7 C133.6,296.6 134.1,293.8 134.9,285.0 C135.7,276.2 137.0,258.0 138.0,250.0 C139.0,242.0 140.0,238.1 140.8,237.0 C141.6,235.9 141.8,240.6 142.7,243.2 C143.6,245.8 145.2,249.3 146.4,252.3 C147.6,255.3 148.8,257.8 150.0,261.4 C151.2,265.0 152.4,270.2 153.6,274.1 C154.8,278.0 156.1,281.5 157.3,285.0 C158.5,288.5 159.9,295.0 160.9,295.0 C161.9,295.0 162.5,289.7 163.6,285.0 C164.7,280.3 166.2,273.3 167.3,266.8 C168.4,260.3 169.1,245.9 170.0,245.9 C170.9,245.9 171.6,263.2 172.7,266.8 C173.8,270.4 175.2,268.8 176.4,267.7 C177.6,266.6 178.9,259.1 180.0,260.5 C181.1,261.9 181.8,272.5 182.7,275.9 C183.5,279.3 184.3,280.8 185.1,280.8 C185.9,280.8 186.8,279.2 187.6,275.7 C188.4,272.2 189.2,259.3 189.9,259.7 C190.6,260.1 190.9,272.7 191.5,278.2 C192.1,283.7 192.6,291.4 193.4,292.9 C194.2,294.4 195.7,290.4 196.6,287.1 C197.5,283.8 198.3,277.1 198.9,273.1 C199.5,269.1 199.8,261.4 200.4,262.9 C201.0,264.4 201.5,278.2 202.3,282.0 C203.2,285.8 204.6,284.9 205.5,285.9 C206.4,286.9 206.9,287.6 208.0,287.8 C209.1,288.0 210.7,289.4 211.8,287.0 C212.9,284.6 213.7,278.4 214.4,273.1 C215.2,267.8 215.8,252.8 216.3,255.3 C216.8,257.9 217.2,280.6 217.6,288.4 C218.0,296.1 218.4,299.9 218.9,301.8 C219.4,303.7 220.1,303.8 220.8,299.9 C221.5,296.0 222.6,283.8 223.3,278.2 C224.0,272.6 224.7,266.7 225.2,266.1 C225.7,265.5 226.0,272.6 226.5,274.4 C227.0,276.2 227.7,278.5 228.4,277.0 C229.2,275.5 230.2,269.3 231.0,265.5 C231.8,261.7 232.7,256.3 233.5,254.0 C234.3,251.7 235.2,252.2 236.0,251.5 C236.8,250.8 237.4,251.2 238.6,249.5 C239.8,247.8 241.8,245.2 243.3,241.0 C244.9,236.8 246.6,228.9 247.9,224.0 C249.2,219.1 250.1,214.9 251.0,211.6 C251.9,208.3 252.8,205.1 253.5,204.0 C254.2,202.9 254.7,203.7 255.5,205.0 C256.3,206.3 256.9,207.4 258.1,211.6 C259.3,215.8 261.0,223.2 262.7,230.2 C264.4,237.2 266.8,249.4 268.1,253.4 C269.4,257.4 269.6,252.7 270.5,254.0 C271.4,255.3 272.3,259.2 273.5,261.0 C274.7,262.8 276.5,263.2 277.9,264.8 C279.3,266.4 280.7,269.1 282.0,270.4 C283.3,271.7 284.7,272.1 285.9,272.7 C287.1,273.3 287.9,273.1 289.3,273.8 C290.7,274.5 292.6,278.0 294.2,277.0 C295.8,276.0 297.8,270.7 299.1,268.0 C300.4,265.3 300.9,262.9 302.0,261.0 C303.1,259.1 304.9,257.5 305.7,256.6 C306.5,255.7 306.4,255.2 307.0,255.5 C307.6,255.8 308.3,256.8 309.0,258.3 C309.7,259.9 310.5,262.2 311.4,264.8 C312.3,267.4 313.4,272.6 314.6,273.7 C315.8,274.8 317.5,274.9 318.5,271.4 C319.5,267.9 319.9,253.1 320.5,252.8 C321.1,252.5 321.6,266.8 322.4,269.8 C323.2,272.8 324.5,271.5 325.5,270.6 C326.5,269.7 327.5,264.3 328.5,264.4 C329.5,264.5 330.4,269.8 331.6,271.4 C332.8,272.9 334.5,273.7 335.5,273.7 C336.5,273.7 336.8,275.0 337.8,271.4 C338.8,267.8 340.5,252.0 341.7,252.0 C342.9,252.0 343.8,269.6 344.8,271.4 C345.8,273.2 346.9,261.9 347.9,262.9 C348.9,263.9 350.0,272.5 351.0,277.5 C352.0,282.5 353.1,289.8 354.0,293.0 C354.9,296.2 355.7,296.6 356.4,296.9 C357.1,297.2 357.5,295.0 358.0,294.7 C358.5,294.4 358.8,294.7 359.5,295.3 C360.2,295.9 361.6,298.1 362.5,298.5 C363.4,298.9 363.6,297.3 365.0,297.5 C366.4,297.7 369.4,300.1 371.2,299.8 C373.0,299.6 374.2,297.0 375.8,296.0 C377.4,295.0 379.0,294.1 380.5,293.6 C382.0,293.1 383.5,294.5 385.0,292.8 C386.5,291.1 388.3,286.5 389.7,283.5 C391.1,280.5 392.6,276.3 393.6,275.0 C394.6,273.7 395.1,275.9 395.9,275.8 C396.7,275.7 397.5,276.0 398.2,274.3 C398.9,272.6 399.0,269.4 399.8,265.7 C400.6,261.9 401.9,258.4 402.9,251.8 C403.9,245.2 405.2,233.7 406.0,226.0 C406.8,218.3 407.2,205.5 407.9,205.5 C408.6,205.5 409.4,218.3 410.0,226.0 C410.6,233.7 410.9,244.7 411.4,251.8 C411.9,258.9 412.1,263.0 412.9,268.8 C413.7,274.6 414.8,282.6 416.0,286.5 C417.2,290.4 418.5,290.7 419.9,292.5 C421.3,294.3 422.8,295.7 424.6,297.3 C426.4,298.9 428.2,300.7 430.8,302.1 C433.4,303.6 436.6,304.9 440.0,306.0 C443.4,307.1 448.0,308.5 450.9,309.0 C453.8,309.5 455.2,309.2 457.1,309.0 C459.0,308.8 460.9,308.2 462.5,307.5 C464.1,306.8 465.6,305.8 466.8,305.0 C468.0,304.2 468.9,301.9 469.8,302.5 C470.7,303.1 471.5,306.5 472.2,308.3 C472.9,310.1 473.3,312.6 474.1,313.2 C474.9,313.8 476.1,312.4 477.2,312.1 C478.3,311.9 479.4,311.5 480.8,311.7 C482.2,311.9 484.1,312.6 485.5,313.2 C486.9,313.8 487.6,315.3 489.3,315.2 C491.0,315.1 493.4,312.8 495.5,312.8 C497.6,312.8 500.0,315.1 501.7,315.2 C503.4,315.3 503.9,313.2 505.5,313.2 C507.1,313.2 508.7,314.5 511.0,315.2 C513.3,315.9 518.1,317.2 519.5,317.6" fill="none" stroke="#3d4584" stroke-width="2.2" stroke-linejoin="round" stroke-linecap="round"/><path d="M55.7,480.4 C56.2,479.2 57.9,475.1 59.0,473.0 C60.1,470.9 61.3,467.7 62.5,467.5 C63.7,467.3 64.7,470.3 66.0,472.0 C67.3,473.7 69.2,476.4 70.5,477.5 C71.8,478.6 72.2,479.3 73.5,478.3 C74.8,477.3 77.0,474.1 78.6,471.6 C80.2,469.1 81.7,465.8 83.2,463.2 C84.8,460.6 86.4,458.1 87.9,455.8 C89.5,453.5 91.0,451.7 92.5,449.3 C94.0,446.9 95.7,444.4 97.2,441.3 C98.8,438.2 100.2,434.1 101.8,431.0 C103.3,427.9 104.8,424.8 106.5,422.5 C108.2,420.2 109.8,418.6 112.0,417.5 C114.2,416.4 117.3,416.0 119.5,415.8 C121.7,415.6 123.2,415.5 125.0,416.4 C126.8,417.3 128.7,419.5 130.6,421.4 C132.5,423.3 134.3,425.7 136.2,427.9 C138.1,430.1 140.2,433.8 141.8,434.4 C143.4,435.0 144.4,432.7 145.5,431.6 C146.6,430.5 147.6,427.3 148.3,428.0 C149.1,428.7 149.5,433.0 150.0,436.0 C150.5,439.0 150.7,442.1 151.5,446.0 C152.3,449.9 153.9,455.8 154.8,459.5 C155.7,463.2 156.3,466.1 157.0,468.0 C157.7,469.9 158.3,470.2 159.0,470.6 C159.7,471.0 160.2,470.7 161.0,470.5 C161.8,470.3 162.7,470.2 163.5,469.5 C164.3,468.8 165.2,468.4 166.0,466.0 C166.8,463.6 167.7,458.5 168.3,455.0 C168.9,451.5 169.2,448.3 169.6,445.0 C170.0,441.7 170.6,437.7 171.0,435.0 C171.4,432.3 171.8,428.7 172.3,429.0 C172.9,429.3 173.8,433.5 174.3,437.0 C174.8,440.5 175.1,446.2 175.5,450.0 C175.9,453.8 176.2,457.2 176.5,460.0 C176.8,462.8 177.0,465.4 177.3,467.0 C177.6,468.6 177.9,469.7 178.3,469.5 C178.7,469.3 179.1,467.1 179.5,466.0 C179.9,464.9 180.4,463.8 181.0,463.0 C181.6,462.2 182.3,461.7 183.0,461.5 C183.7,461.3 184.3,461.4 185.0,462.0 C185.7,462.6 186.2,462.3 187.0,465.0 C187.8,467.7 188.9,473.8 189.5,478.0 C190.1,482.2 190.2,487.8 190.5,490.0 C190.8,492.2 191.1,492.7 191.5,491.0 C191.9,489.3 192.4,485.2 193.0,480.0 C193.6,474.8 194.4,466.3 195.0,460.0 C195.6,453.7 196.1,446.5 196.5,442.0 C196.9,437.5 197.2,432.5 197.5,433.0 C197.8,433.5 198.2,440.5 198.5,445.0 C198.8,449.5 198.8,455.8 199.0,460.0 C199.2,464.2 199.2,467.2 199.5,470.0 C199.8,472.8 200.3,476.2 201.0,477.0 C201.7,477.8 202.7,475.3 203.5,475.0 C204.3,474.7 205.1,474.5 206.0,475.0 C206.9,475.5 208.2,476.3 209.0,478.0 C209.8,479.7 210.3,482.2 211.0,485.0 C211.7,487.8 212.3,491.7 213.0,495.0 C213.7,498.3 214.3,502.5 215.0,505.0 C215.7,507.5 216.3,509.3 217.0,510.0 C217.7,510.7 218.2,510.7 219.0,509.0 C219.8,507.3 220.7,505.7 221.5,500.0 C222.3,494.3 223.3,481.3 224.0,475.0 C224.7,468.7 225.2,465.0 225.8,462.0 C226.4,459.0 226.9,455.7 227.3,457.0 C227.7,458.3 228.0,465.3 228.3,470.0 C228.6,474.7 229.0,480.5 229.3,485.0 C229.6,489.5 229.9,494.0 230.3,497.0 C230.7,500.0 231.3,502.5 231.8,503.0 C232.3,503.5 233.0,502.2 233.5,500.0 C234.0,497.8 234.4,494.7 235.0,490.0 C235.6,485.3 236.2,477.8 236.8,472.0 C237.4,466.2 238.1,460.7 238.8,455.0 C239.5,449.3 240.2,443.2 241.0,438.0 C241.8,432.8 242.8,423.2 243.5,423.5 C244.2,423.8 244.6,433.9 245.0,440.0 C245.4,446.1 245.8,454.2 246.0,460.0 C246.2,465.8 246.3,471.2 246.5,475.0 C246.7,478.8 246.4,480.8 247.0,483.0 C247.6,485.2 248.6,487.4 249.9,488.0 C251.2,488.6 253.2,487.8 254.8,486.5 C256.4,485.2 258.3,482.7 259.7,480.5 C261.1,478.3 262.0,473.1 263.0,473.4 C264.0,473.6 264.4,479.6 265.5,482.0 C266.6,484.4 267.9,486.4 269.5,488.0 C271.1,489.6 273.7,490.1 275.3,491.4 C276.9,492.6 278.2,494.3 279.4,495.5 C280.6,496.7 281.4,498.8 282.6,498.7 C283.8,498.6 285.5,496.8 286.7,494.6 C287.9,492.4 289.0,488.9 290.0,485.6 C291.0,482.3 291.6,477.4 292.5,475.0 C293.4,472.6 294.6,470.6 295.7,470.9 C296.8,471.2 298.0,474.4 299.0,476.6 C300.0,478.8 300.4,482.1 301.5,484.0 C302.6,485.9 304.2,487.7 305.6,488.1 C307.0,488.5 308.5,488.0 309.6,486.5 C310.7,485.0 311.5,481.8 312.1,479.0 C312.8,476.2 313.0,473.5 313.5,470.0 C314.0,466.5 314.5,462.2 315.0,458.0 C315.5,453.8 316.0,449.2 316.5,445.0 C317.0,440.8 317.5,435.8 318.0,433.0 C318.5,430.2 319.0,428.2 319.5,428.0 C320.0,427.8 320.5,429.7 320.8,432.0 C321.1,434.3 321.3,437.7 321.5,442.0 C321.7,446.3 322.0,452.0 322.2,458.0 C322.4,464.0 322.5,472.8 322.8,478.0 C323.1,483.2 323.5,486.2 324.0,489.0 C324.5,491.8 325.3,493.6 326.0,495.0 C326.7,496.4 327.0,497.0 328.0,497.5 C329.0,498.0 330.8,498.6 332.0,498.0 C333.2,497.4 334.0,496.3 335.0,494.0 C336.0,491.7 337.0,487.7 338.0,484.0 C339.0,480.3 340.2,475.2 341.0,472.0 C341.8,468.8 342.4,464.0 343.0,465.0 C343.6,466.0 344.0,473.5 344.5,478.0 C345.0,482.5 345.6,489.2 346.0,492.0 C346.4,494.8 346.0,494.2 347.0,495.0 C348.0,495.8 350.2,496.4 352.0,497.0 C353.8,497.6 356.3,498.0 358.0,498.5 C359.7,499.0 360.7,501.1 362.0,500.0 C363.3,498.9 364.8,494.2 366.0,492.0 C367.2,489.8 368.2,487.0 369.0,487.0 C369.8,487.0 370.2,490.2 371.0,492.0 C371.8,493.8 373.0,496.3 374.0,498.0 C375.0,499.7 376.0,501.2 377.0,502.0 C378.0,502.8 379.0,503.3 380.0,503.0 C381.0,502.7 381.7,501.3 383.0,500.0 C384.3,498.7 386.8,496.3 388.0,495.0 C389.2,493.7 389.3,494.5 390.0,492.0 C390.7,489.5 391.5,483.7 392.0,480.0 C392.5,476.3 392.7,473.7 393.0,470.0 C393.3,466.3 393.8,460.5 394.0,458.0 C394.2,455.5 394.3,452.7 394.5,455.0 C394.7,457.3 395.0,466.5 395.3,472.0 C395.6,477.5 395.8,484.3 396.3,488.0 C396.8,491.7 397.6,493.3 398.5,494.0 C399.4,494.7 400.8,492.7 402.0,492.0 C403.2,491.3 404.8,490.7 406.0,490.0 C407.2,489.3 408.1,490.5 409.0,488.0 C409.9,485.5 410.8,479.7 411.5,475.0 C412.2,470.3 412.5,464.2 413.0,460.0 C413.5,455.8 414.0,453.0 414.5,450.0 C415.0,447.0 415.5,445.3 416.0,442.0 C416.5,438.7 417.1,429.5 417.5,430.0 C417.9,430.5 418.2,439.2 418.5,445.0 C418.8,450.8 419.1,459.2 419.5,465.0 C419.9,470.8 420.2,476.8 421.0,480.0 C421.8,483.2 423.0,482.8 424.0,484.0 C425.0,485.2 425.7,486.3 427.0,487.0 C428.3,487.7 430.7,487.5 432.0,488.0 C433.3,488.5 433.7,489.8 435.0,490.0 C436.3,490.2 438.3,489.3 440.0,489.0 C441.7,488.7 443.8,489.5 445.0,488.0 C446.2,486.5 446.5,482.3 447.0,480.0 C447.5,477.7 447.7,473.2 448.0,474.0 C448.3,474.8 448.6,483.2 449.0,485.0 C449.4,486.8 450.0,484.7 450.5,485.0 C451.0,485.3 451.4,485.8 452.0,487.0 C452.6,488.2 453.3,490.5 454.0,492.0 C454.7,493.5 455.2,495.2 456.0,496.0 C456.8,496.8 458.0,497.0 459.0,497.0 C460.0,497.0 461.0,496.5 462.0,496.0 C463.0,495.5 464.0,494.7 465.0,494.0 C466.0,493.3 466.8,493.2 468.0,492.0 C469.2,490.8 470.8,488.7 472.0,487.0 C473.2,485.3 474.2,483.3 475.0,482.0 C475.8,480.7 476.2,479.2 477.0,479.0 C477.8,478.8 479.2,481.2 480.0,481.0 C480.8,480.8 481.5,481.5 482.0,478.0 C482.5,474.5 482.7,465.5 483.0,460.0 C483.3,454.5 483.8,449.0 484.0,445.0 C484.2,441.0 484.2,436.0 484.5,436.0 C484.8,436.0 485.2,441.0 485.5,445.0 C485.8,449.0 486.1,455.0 486.5,460.0 C486.9,465.0 487.6,471.2 488.0,475.0 C488.4,478.8 488.5,481.0 489.0,483.0 C489.5,485.0 490.2,486.7 491.0,487.0 C491.8,487.3 493.2,487.0 494.0,485.0 C494.8,483.0 495.4,477.3 496.0,475.0 C496.6,472.7 497.0,470.5 497.5,471.0 C498.0,471.5 498.6,475.2 499.0,478.0 C499.4,480.8 499.7,485.2 500.0,488.0 C500.3,490.8 500.7,493.0 501.0,495.0 C501.3,497.0 501.8,499.2 502.0,500.0" fill="none" stroke="#6c3f13" stroke-width="2.3" stroke-dasharray="6.5 3" stroke-linejoin="round"/><path d="M58.9,516.5 C59.5,515.9 61.1,513.9 62.5,513.0 C63.9,512.1 65.7,511.0 67.4,511.0 C69.2,511.0 71.2,512.8 73.0,512.8 C74.8,512.8 76.2,511.6 78.0,510.8 C79.8,510.0 82.0,508.9 84.0,508.0 C86.0,507.1 88.2,506.2 90.0,505.5 C91.8,504.8 93.6,504.2 95.0,503.8 C96.4,503.4 97.3,503.0 98.6,503.0 C99.9,503.0 101.5,503.5 103.0,504.0 C104.5,504.5 106.0,505.4 107.5,506.0 C109.0,506.6 110.5,507.2 112.2,507.6 C114.0,508.0 116.0,508.3 118.0,508.4 C120.0,508.5 122.0,508.5 124.0,508.4 C126.0,508.3 128.0,508.3 130.0,508.0 C132.0,507.7 134.3,506.9 136.0,506.5 C137.7,506.1 138.8,506.0 140.0,505.5 C141.2,505.0 142.3,504.1 143.4,503.4 C144.5,502.7 145.5,502.2 146.5,501.5 C147.5,500.8 148.5,500.0 149.5,499.0 C150.5,498.0 151.6,496.6 152.5,495.5 C153.4,494.4 154.1,493.6 155.0,492.3 C155.9,491.0 157.0,489.1 158.0,487.5 C159.0,485.9 160.1,484.1 161.0,482.5 C161.9,480.9 162.7,479.4 163.5,478.0 C164.3,476.6 165.2,475.5 165.9,474.0 C166.7,472.5 167.3,470.7 168.0,469.0 C168.7,467.3 169.3,465.6 170.0,464.0 C170.7,462.4 171.3,460.9 172.0,459.5 C172.7,458.1 173.5,456.1 174.0,455.5 C174.5,454.9 174.8,455.9 175.2,456.2 C175.6,456.4 176.0,456.8 176.5,457.0 C177.0,457.2 177.7,457.5 178.4,457.5 C179.1,457.5 179.7,457.2 180.5,456.8 C181.3,456.4 182.2,455.6 183.0,455.0 C183.8,454.4 184.7,454.0 185.5,453.4 C186.3,452.8 186.9,452.0 188.0,451.5 C189.1,451.0 190.9,449.9 192.0,450.5 C193.1,451.1 193.9,451.8 194.5,455.0 C195.1,458.2 195.2,466.2 195.5,470.0 C195.8,473.8 196.1,478.0 196.5,478.0 C196.9,478.0 197.5,473.8 198.0,470.0 C198.5,466.2 199.1,458.3 199.5,455.0 C199.9,451.7 200.2,449.2 200.5,450.0 C200.8,450.8 201.2,456.7 201.5,460.0 C201.8,463.3 202.2,469.2 202.5,470.0 C202.8,470.8 203.1,467.0 203.5,465.0 C203.9,463.0 204.4,459.7 205.0,458.0 C205.6,456.3 206.3,455.2 207.0,455.0 C207.7,454.8 208.3,456.0 209.0,457.0 C209.7,458.0 210.3,460.2 211.0,461.0 C211.7,461.8 212.3,461.7 213.0,462.0 C213.7,462.3 214.2,462.2 215.0,463.0 C215.8,463.8 217.1,464.7 218.0,467.0 C218.9,469.3 219.8,473.5 220.5,477.0 C221.2,480.5 221.8,484.8 222.5,488.0 C223.2,491.2 223.9,495.3 224.5,496.0 C225.1,496.7 225.8,494.7 226.3,492.0 C226.9,489.3 227.3,483.7 227.8,480.0 C228.3,476.3 229.0,472.0 229.5,470.0 C230.0,468.0 230.5,467.2 231.0,468.0 C231.5,468.8 232.0,471.3 232.5,475.0 C233.0,478.7 233.6,485.8 234.0,490.0 C234.4,494.2 234.6,496.8 235.0,500.0 C235.4,503.2 236.0,508.7 236.5,509.0 C237.0,509.3 237.5,505.2 238.0,502.0 C238.5,498.8 239.0,494.5 239.5,490.0 C240.0,485.5 240.4,479.7 241.0,475.0 C241.6,470.3 242.3,465.2 243.0,462.0 C243.7,458.8 244.2,457.5 245.0,456.0 C245.8,454.5 247.0,453.7 248.0,453.0 C249.0,452.3 250.0,451.7 251.0,452.0 C252.0,452.3 252.8,452.8 254.0,455.0 C255.2,457.2 256.7,462.0 258.0,465.0 C259.3,468.0 260.8,472.2 262.0,473.0 C263.2,473.8 263.8,471.6 265.0,470.0 C266.2,468.4 268.3,463.8 269.5,463.5 C270.7,463.2 270.9,465.8 272.0,468.0 C273.1,470.2 274.8,474.9 276.0,477.0 C277.2,479.1 278.4,479.3 279.5,480.5 C280.6,481.7 281.5,482.8 282.6,484.0 C283.7,485.2 284.8,486.8 286.0,488.0 C287.2,489.2 288.7,490.5 290.0,491.5 C291.3,492.5 292.9,493.5 294.0,494.0 C295.1,494.5 295.6,494.9 296.5,494.5 C297.4,494.1 298.7,491.8 299.5,491.5 C300.3,491.2 300.8,492.2 301.5,493.0 C302.2,493.8 303.2,495.2 304.0,496.5 C304.8,497.8 305.8,500.0 306.5,501.0 C307.2,502.0 307.6,503.5 308.3,502.5 C309.0,501.5 309.9,498.8 310.5,495.0 C311.1,491.2 311.4,485.8 312.0,480.0 C312.6,474.2 313.3,466.7 314.0,460.0 C314.7,453.3 315.4,446.0 316.0,440.0 C316.6,434.0 317.2,428.0 317.6,424.0 C318.0,420.0 318.3,417.8 318.6,416.0 C318.9,414.2 319.3,413.2 319.6,413.0 C319.9,412.8 320.2,413.2 320.4,415.0 C320.6,416.8 320.8,420.5 321.0,424.0 C321.2,427.5 321.3,432.3 321.5,436.0 C321.7,439.7 321.8,442.8 322.0,446.0 C322.2,449.2 322.3,451.0 322.5,455.0 C322.7,459.0 322.8,466.8 323.0,470.0 C323.2,473.2 323.0,473.2 323.5,474.0 C324.0,474.8 325.1,474.0 326.0,475.0 C326.9,476.0 327.8,477.8 329.0,480.0 C330.2,482.2 331.9,486.5 333.0,488.0 C334.1,489.5 334.7,490.3 335.5,489.0 C336.3,487.7 337.2,482.8 338.0,480.0 C338.8,477.2 339.3,475.7 340.0,472.0 C340.7,468.3 341.5,464.2 342.0,458.0 C342.5,451.8 342.6,441.3 342.8,435.0 C343.0,428.7 343.2,422.2 343.4,420.0 C343.6,417.8 343.8,418.7 344.0,422.0 C344.2,425.3 344.4,432.0 344.6,440.0 C344.9,448.0 345.2,461.7 345.5,470.0 C345.8,478.3 346.1,485.8 346.5,490.0 C346.9,494.2 347.1,493.8 348.0,495.0 C348.9,496.2 350.3,496.4 352.0,497.0 C353.7,497.6 356.3,498.0 358.0,498.5 C359.7,499.0 360.7,499.4 362.0,500.0 C363.3,500.6 364.8,501.5 366.0,502.0 C367.2,502.5 368.0,503.3 369.0,503.0 C370.0,502.7 371.0,501.0 372.0,500.0 C373.0,499.0 373.8,497.8 375.0,497.0 C376.2,496.2 377.7,495.8 379.0,495.5 C380.3,495.2 381.5,494.6 383.0,495.0 C384.5,495.4 386.7,498.2 388.0,498.0 C389.3,497.8 390.2,495.0 391.0,494.0 C391.8,493.0 392.4,492.0 393.0,492.0 C393.6,492.0 394.0,492.7 394.5,494.0 C395.0,495.3 395.3,498.7 396.0,500.0 C396.7,501.3 397.7,502.2 398.5,502.0 C399.3,501.8 400.3,501.3 401.0,499.0 C401.7,496.7 402.1,492.8 402.5,488.0 C402.9,483.2 403.2,474.7 403.5,470.0 C403.8,465.3 404.2,461.7 404.5,460.0 C404.8,458.3 405.2,458.0 405.5,460.0 C405.8,462.0 406.2,467.3 406.5,472.0 C406.8,476.7 407.1,483.8 407.5,488.0 C407.9,492.2 408.4,495.0 409.0,497.0 C409.6,499.0 410.3,500.2 411.0,500.0 C411.7,499.8 412.4,498.5 413.0,496.0 C413.6,493.5 414.0,489.7 414.5,485.0 C415.0,480.3 415.5,472.7 416.0,468.0 C416.5,463.3 417.1,459.0 417.5,457.0 C417.9,455.0 418.2,455.0 418.5,456.0 C418.8,457.0 419.2,459.8 419.5,463.0 C419.8,466.2 420.2,471.0 420.5,475.0 C420.8,479.0 421.1,483.7 421.5,487.0 C421.9,490.3 422.4,492.8 423.0,495.0 C423.6,497.2 424.2,499.3 425.0,500.0 C425.8,500.7 427.0,499.2 428.0,499.0 C429.0,498.8 430.0,499.5 431.0,499.0 C432.0,498.5 433.0,497.5 434.0,496.0 C435.0,494.5 436.0,492.0 437.0,490.0 C438.0,488.0 439.2,484.0 440.0,484.0 C440.8,484.0 441.3,487.8 442.0,490.0 C442.7,492.2 443.3,495.3 444.0,497.0 C444.7,498.7 445.2,499.8 446.0,500.0 C446.8,500.2 448.0,498.7 449.0,498.0 C450.0,497.3 451.2,497.0 452.0,496.0 C452.8,495.0 453.3,493.3 454.0,492.0 C454.7,490.7 455.3,489.3 456.0,488.0 C456.7,486.7 457.3,484.8 458.0,484.0 C458.7,483.2 459.4,482.8 460.0,483.0 C460.6,483.2 461.0,485.3 461.5,485.0 C462.0,484.7 462.4,482.0 463.0,481.0 C463.6,480.0 464.3,478.5 465.0,479.0 C465.7,479.5 466.3,481.5 467.0,484.0 C467.7,486.5 468.3,491.5 469.0,494.0 C469.7,496.5 470.3,498.8 471.0,499.0 C471.7,499.2 472.3,497.3 473.0,495.0 C473.7,492.7 474.4,488.8 475.0,485.0 C475.6,481.2 476.1,474.8 476.5,472.0 C476.9,469.2 477.2,467.5 477.5,468.0 C477.8,468.5 478.1,471.3 478.5,475.0 C478.9,478.7 479.5,486.2 480.0,490.0 C480.5,493.8 481.0,498.0 481.5,498.0 C482.0,498.0 482.5,493.0 483.0,490.0 C483.5,487.0 484.1,482.0 484.5,480.0 C484.9,478.0 485.1,477.2 485.5,478.0 C485.9,478.8 486.4,482.0 487.0,485.0 C487.6,488.0 488.3,493.5 489.0,496.0 C489.7,498.5 490.2,499.7 491.0,500.0 C491.8,500.3 492.7,499.2 493.5,498.0 C494.3,496.8 495.2,495.2 496.0,493.0 C496.8,490.8 497.5,486.7 498.0,485.0 C498.5,483.3 498.6,482.2 499.0,483.0 C499.4,483.8 500.1,487.2 500.5,490.0 C500.9,492.8 501.3,498.3 501.5,500.0" fill="none" stroke="#3d4584" stroke-width="2.2" stroke-linejoin="round" stroke-linecap="round"/>
<rect x="48.3" y="8" width="477.49999999999994" height="134.2" fill="none" stroke="#000" stroke-width="2.3"/><rect x="48.8" y="192.7" width="476.90000000000003" height="164.60000000000002" fill="none" stroke="#000" stroke-width="2.3"/><rect x="49" y="398" width="476.70000000000005" height="124.70000000000005" fill="none" stroke="#000" stroke-width="2.3"/>
<line x1="192.8" y1="134" x2="192.8" y2="142" stroke="#000" stroke-width="1.6"/><line x1="328" y1="134" x2="328" y2="142" stroke="#000" stroke-width="1.6"/><line x1="456.8" y1="134" x2="456.8" y2="142" stroke="#000" stroke-width="1.6"/><line x1="84" y1="348.5" x2="84" y2="357" stroke="#000" stroke-width="1.6"/><line x1="183.1" y1="348.5" x2="183.1" y2="357" stroke="#000" stroke-width="1.6"/><line x1="275.2" y1="348.5" x2="275.2" y2="357" stroke="#000" stroke-width="1.6"/><line x1="374.2" y1="348.5" x2="374.2" y2="357" stroke="#000" stroke-width="1.6"/><line x1="467.3" y1="348.5" x2="467.3" y2="357" stroke="#000" stroke-width="1.6"/><line x1="103.9" y1="513.4" x2="103.9" y2="522" stroke="#000" stroke-width="1.6"/><line x1="176.7" y1="513.4" x2="176.7" y2="522" stroke="#000" stroke-width="1.6"/><line x1="256.1" y1="513.4" x2="256.1" y2="522" stroke="#000" stroke-width="1.6"/><line x1="328.1" y1="513.4" x2="328.1" y2="522" stroke="#000" stroke-width="1.6"/><line x1="400.4" y1="513.4" x2="400.4" y2="522" stroke="#000" stroke-width="1.6"/>
<text x="169" y="162.4" font-family="Liberation Sans, sans-serif" font-size="14.5" font-weight="bold">2000</text><text x="303.3" y="159.2" font-family="Liberation Sans, sans-serif" font-size="14.5" font-weight="bold">3000</text><text x="435.8" y="159.2" font-family="Liberation Sans, sans-serif" font-size="14.5" font-weight="bold">3500</text><text x="481.8" y="165.7" font-family="Liberation Sans, sans-serif" font-size="14" font-weight="bold">cm<tspan font-size="9" dy="-6">-1</tspan></text><text x="69.6" y="376.5" font-family="Liberation Sans, sans-serif" font-size="14.5" font-weight="bold">400</text><text x="168.3" y="375.5" font-family="Liberation Sans, sans-serif" font-size="14.5" font-weight="bold">800</text><text x="258.3" y="376.5" font-family="Liberation Sans, sans-serif" font-size="14.5" font-weight="bold">1200</text><text x="357.1" y="376.5" font-family="Liberation Sans, sans-serif" font-size="14.5" font-weight="bold">1600</text><text x="447.3" y="375.5" font-family="Liberation Sans, sans-serif" font-size="14.5" font-weight="bold">2000</text><text x="479.7" y="381.4" font-family="Liberation Sans, sans-serif" font-size="14" font-weight="bold">cm<tspan font-size="9" dy="-6">-1</tspan></text><text x="87.8" y="540.5" font-family="Liberation Sans, sans-serif" font-size="14.5" font-weight="bold">200</text><text x="161.4" y="540.5" font-family="Liberation Sans, sans-serif" font-size="14.5" font-weight="bold">400</text><text x="240" y="540.5" font-family="Liberation Sans, sans-serif" font-size="14.5" font-weight="bold">600</text><text x="312" y="540.5" font-family="Liberation Sans, sans-serif" font-size="14.5" font-weight="bold">800</text><text x="391.7" y="540" font-family="Liberation Sans, sans-serif" font-size="14.5" font-weight="bold">1000</text><text x="479.1" y="541.7" font-family="Liberation Sans, sans-serif" font-size="14" >cm<tspan font-size="9" dx="0.8" dy="-4.8">-1</tspan></text><text x="73.4" y="27.2" font-family="Liberation Sans, sans-serif" font-size="13.5" font-weight="bold"><tspan font-style="italic">ISR</tspan> = 1.347</text><text x="76.1" y="210.4" font-family="Liberation Sans, sans-serif" font-size="13.5" font-weight="bold"><tspan font-style="italic">ISR</tspan> = 1</text><text x="76.4" y="415" font-family="Liberation Sans, sans-serif" font-size="13.5" font-weight="bold"><tspan font-style="italic">ISR</tspan> = 2.05</text><text x="495.4" y="33" font-family="Liberation Sans, sans-serif" font-size="18" >a)</text><text x="495.4" y="216" font-family="Liberation Sans, sans-serif" font-size="18" >b)</text><text x="495.8" y="421" font-family="Liberation Sans, sans-serif" font-size="18" >c)</text><text x="7" y="32" font-family="Liberation Sans, sans-serif" font-size="19" textLength="13" lengthAdjust="spacingAndGlyphs">%</text><text x="21" y="32" font-family="Liberation Sans, sans-serif" font-size="19" font-style="italic" textLength="10.5" lengthAdjust="spacingAndGlyphs">T</text><text x="3.3" y="216" font-family="Liberation Sans, sans-serif" font-size="19" textLength="13.4" lengthAdjust="spacingAndGlyphs">%</text><text x="18" y="216" font-family="Liberation Sans, sans-serif" font-size="19" font-style="italic" textLength="10.5" lengthAdjust="spacingAndGlyphs">T</text><text x="2.8" y="422.9" font-family="Liberation Sans, sans-serif" font-size="19" textLength="12.5" lengthAdjust="spacingAndGlyphs">%</text><text x="17.5" y="422.9" font-family="Liberation Sans, sans-serif" font-size="19" font-style="italic" textLength="10.5" lengthAdjust="spacingAndGlyphs">T</text>
<path d="M37.9,8.5 L37.9,33.7" stroke="#000" stroke-width="1.8" fill="none"/><path d="M33.1,25.700000000000003 L37.9,34.7 L42.699999999999996,25.700000000000003" stroke="#000" stroke-width="1.8" fill="none" stroke-linejoin="miter"/><path d="M37.9,196 L37.9,220.6" stroke="#000" stroke-width="1.8" fill="none"/><path d="M33.1,212.6 L37.9,221.6 L42.699999999999996,212.6" stroke="#000" stroke-width="1.8" fill="none" stroke-linejoin="miter"/><path d="M37.6,398.3 L37.6,422.8" stroke="#000" stroke-width="1.8" fill="none"/><path d="M32.800000000000004,414.8 L37.6,423.8 L42.4,414.8" stroke="#000" stroke-width="1.8" fill="none" stroke-linejoin="miter"/>
</svg>
</body></html>
